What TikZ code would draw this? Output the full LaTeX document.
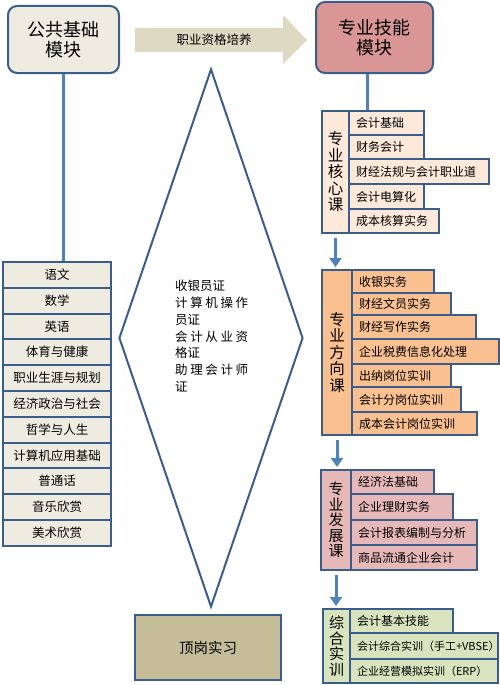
\documentclass[tikz,border=0pt]{standalone}
\usepackage{fontspec}
\setmainfont{Noto Sans CJK SC}
\usepackage{xcolor}
\usepackage{tikz}
\usetikzlibrary{shapes.geometric, arrows.meta}
\definecolor{bord}{HTML}{3A5D8C}
\definecolor{lineblue}{HTML}{4F81BD}
\definecolor{jcfill}{HTML}{EEECE1}
\definecolor{jnfill}{HTML}{D99694}
\definecolor{hxfill}{HTML}{FDE9D9}
\definecolor{fxfill}{HTML}{FAC090}
\definecolor{fzfill}{HTML}{E6B9B8}
\definecolor{zhfill}{HTML}{D7E4BD}
\definecolor{pyfill}{HTML}{DDD9C3}
\definecolor{dgfill}{HTML}{C4BD97}
\tikzstyle{mokuai} = [draw=bord, line width=2pt, rounded corners=9pt, align=center, font=\fontsize{18}{20.5}\selectfont]
\tikzstyle{kecheng} = [draw=bord, line width=2pt, anchor=north west, inner sep=0pt, font=\fontsize{12.5}{14}\selectfont]
\tikzstyle{kc} = [draw=bord, line width=2pt, anchor=north west, inner xsep=7pt, inner ysep=0pt, align=left, font=\fontsize{12}{14}\selectfont]
\tikzstyle{lab} = [draw=bord, line width=2pt, anchor=north west, inner sep=0pt, align=center, font=\fontsize{15.5}{16.5}\selectfont]
\tikzstyle{conn} = [draw=lineblue, line width=3pt]
\tikzstyle{flow} = [draw=lineblue, line width=3pt, -{Triangle[length=9pt,width=12pt]}, shorten <=4pt, shorten >=2pt]

\begin{document}
\begin{tikzpicture}[x=1pt,y=-1pt]
			\useasboundingbox (0,0) rectangle (500,685);
			%top: two modules and the arrow
			\node[mokuai, fill=jcfill, minimum width=111pt, minimum height=67pt] (gong) at (63.5,39.5) {公共基础\\模块};
			\node[mokuai, fill=jnfill, minimum width=117pt, minimum height=71pt] (zy) at (374.5,37.5) {专业技能\\模块};
			\fill[pyfill] (135,28) -- (283,28) -- (283,15) -- (307,40) -- (283,64) -- (283,52) -- (135,52) -- cycle;
			\node[font=\fontsize{12.5}{14}\selectfont] (pyyang) at (214,40) {职业资格培养};
			
			%left: public courses
			\node[kecheng, fill=jcfill, minimum width=108pt, minimum height=26pt] (yw1) at (2,261) {语文};
			\node[kecheng, fill=jcfill, minimum width=108pt, minimum height=26pt] (yw2) at (2,287) {数学};
			\node[kecheng, fill=jcfill, minimum width=108pt, minimum height=26pt] (yw3) at (2,313) {英语};
			\node[kecheng, fill=jcfill, minimum width=108pt, minimum height=26pt] (yw4) at (2,338) {体育与健康};
			\node[kecheng, fill=jcfill, minimum width=108pt, minimum height=26pt] (yw5) at (2,364) {职业生涯与规划};
			\node[kecheng, fill=jcfill, minimum width=108pt, minimum height=26pt] (yw6) at (2,390) {经济政治与社会};
			\node[kecheng, fill=jcfill, minimum width=108pt, minimum height=26pt] (yw7) at (2,416) {哲学与人生};
			\node[kecheng, fill=jcfill, minimum width=108pt, minimum height=26pt] (yw8) at (2,442) {计算机应用基础};
			\node[kecheng, fill=jcfill, minimum width=108pt, minimum height=26pt] (yw9) at (2,467) {普通话};
			\node[kecheng, fill=jcfill, minimum width=108pt, minimum height=26pt] (yw10) at (2,493) {音乐欣赏};
			\node[kecheng, fill=jcfill, minimum width=108pt, minimum height=26pt] (yw11) at (2,519) {美术欣赏};
			
			%middle: certificates and internship
			\node[draw=bord, line width=2pt, diamond, minimum width=184pt, minimum height=538pt, inner sep=0pt] (zsk) at (211,338) {};
			\node[anchor=north west, inner sep=0pt, align=left, font=\fontsize{12.5}{16.8}\selectfont] (zsw) at (175,280) {收银员证\\\hbox to 73pt{计\hfill 算\hfill 机\hfill 操\hfill 作}\\员证\\\hbox to 73pt{会\hfill 计\hfill 从\hfill 业\hfill 资}\\格证\\\hbox to 73pt{助\hfill 理\hfill 会\hfill 计\hfill 师}\\证};
			\node[draw=bord, line width=2pt, fill=dgfill, minimum width=146pt, minimum height=65pt, font=\fontsize{14.5}{16}\selectfont] (dg) at (208,647.5) {顶岗实习};
			
			%right: core courses
			\node[lab, fill=hxfill, minimum width=27pt, minimum height=122pt] (hxk) at (321,110) {专\\业\\核\\心\\课};
			\node[kc, fill=hxfill, text width=61pt, minimum height=24pt] (hx1) at (348,110) {会计基础};
			\node[kc, fill=hxfill, text width=61pt, minimum height=24pt] (hx2) at (348,134) {财务会计};
			\node[kc, fill=hxfill, text width=126pt, minimum height=25pt] (hx3) at (348,158) {财经法规与会计职业道};
			\node[kc, fill=hxfill, text width=61pt, minimum height=25pt] (hx4) at (348,183) {会计电算化};
			\node[kc, fill=hxfill, text width=76pt, minimum height=24pt] (hx5) at (348,208) {成本核算实务};
			
			%direction courses
			\node[lab, fill=fxfill, minimum width=30pt, minimum height=165pt] (fxk) at (321,269) {专\\业\\方\\向\\课};
			\node[kc, fill=fxfill, text width=68pt, minimum height=23pt] (fx1) at (351,269) {收银实务};
			\node[kc, fill=fxfill, text width=85pt, minimum height=22pt] (fx2) at (351,292) {财经文员实务};
			\node[kc, fill=fxfill, text width=110pt, minimum height=24pt] (fx3) at (351,314) {财经写作实务};
			\node[kc, fill=fxfill, text width=133pt, minimum height=25pt] (fx4) at (351,338) {企业税费信息化处理};
			\node[kc, fill=fxfill, text width=85pt, minimum height=23pt] (fx5) at (351,363) {出纳岗位实训};
			\node[kc, fill=fxfill, text width=95pt, minimum height=25pt] (fx6) at (351,386) {会计分岗位实训};
			\node[kc, fill=fxfill, text width=111pt, minimum height=23pt] (fx7) at (351,411) {成本会计岗位实训};
			
			%development courses
			\node[lab, fill=fzfill, minimum width=30pt, minimum height=100pt, font=\fontsize{15}{15.5}\selectfont] (fzk) at (320,469) {专\\业\\发\\展\\课};
			\node[kc, fill=fzfill, text width=69pt, minimum height=24pt] (fz1) at (350,469) {经济法基础};
			\node[kc, fill=fzfill, text width=88pt, minimum height=26pt] (fz2) at (350,493) {企业理财实务};
			\node[kc, fill=fzfill, text width=112pt, minimum height=25pt] (fz3) at (350,519) {会计报表编制与分析};
			\node[kc, fill=fzfill, text width=112pt, minimum height=25pt] (fz4) at (350,544) {商品流通企业会计};
			
			%practical training
			\node[lab, fill=zhfill, minimum width=27pt, minimum height=74pt, font=\fontsize{15}{15.5}\selectfont] (zhk) at (322,608) {综\\合\\实\\训};
			\node[kc, fill=zhfill, text width=89pt, minimum height=24pt] (zh1) at (349,608) {会计基本技能};
			\node[kc, fill=zhfill, text width=134pt, minimum height=26pt, font=\fontsize{11}{13}\selectfont] (zh2) at (349,632) {会计综合实训（手工+VBSE）};
			\node[kc, fill=zhfill, text width=134pt, minimum height=24pt, font=\fontsize{11}{13}\selectfont] (zh3) at (349,658) {企业经营模拟实训（ERP）};
			
			%connectors
			\draw[conn] (gong.south) -- (gong.south |- yw1.north);
			\draw[conn] ([xshift=-7pt]zy.south) -- ([xshift=-7pt]zy.south |- hx1.north);
			\draw[flow] (hxk.south) -- (hxk.south |- fxk.north);
			\draw[flow] (fxk.south) -- (fxk.south |- fzk.north);
			\draw[flow] (fzk.south) -- (fzk.south |- zhk.north);
			
		\end{tikzpicture}
\end{document}
